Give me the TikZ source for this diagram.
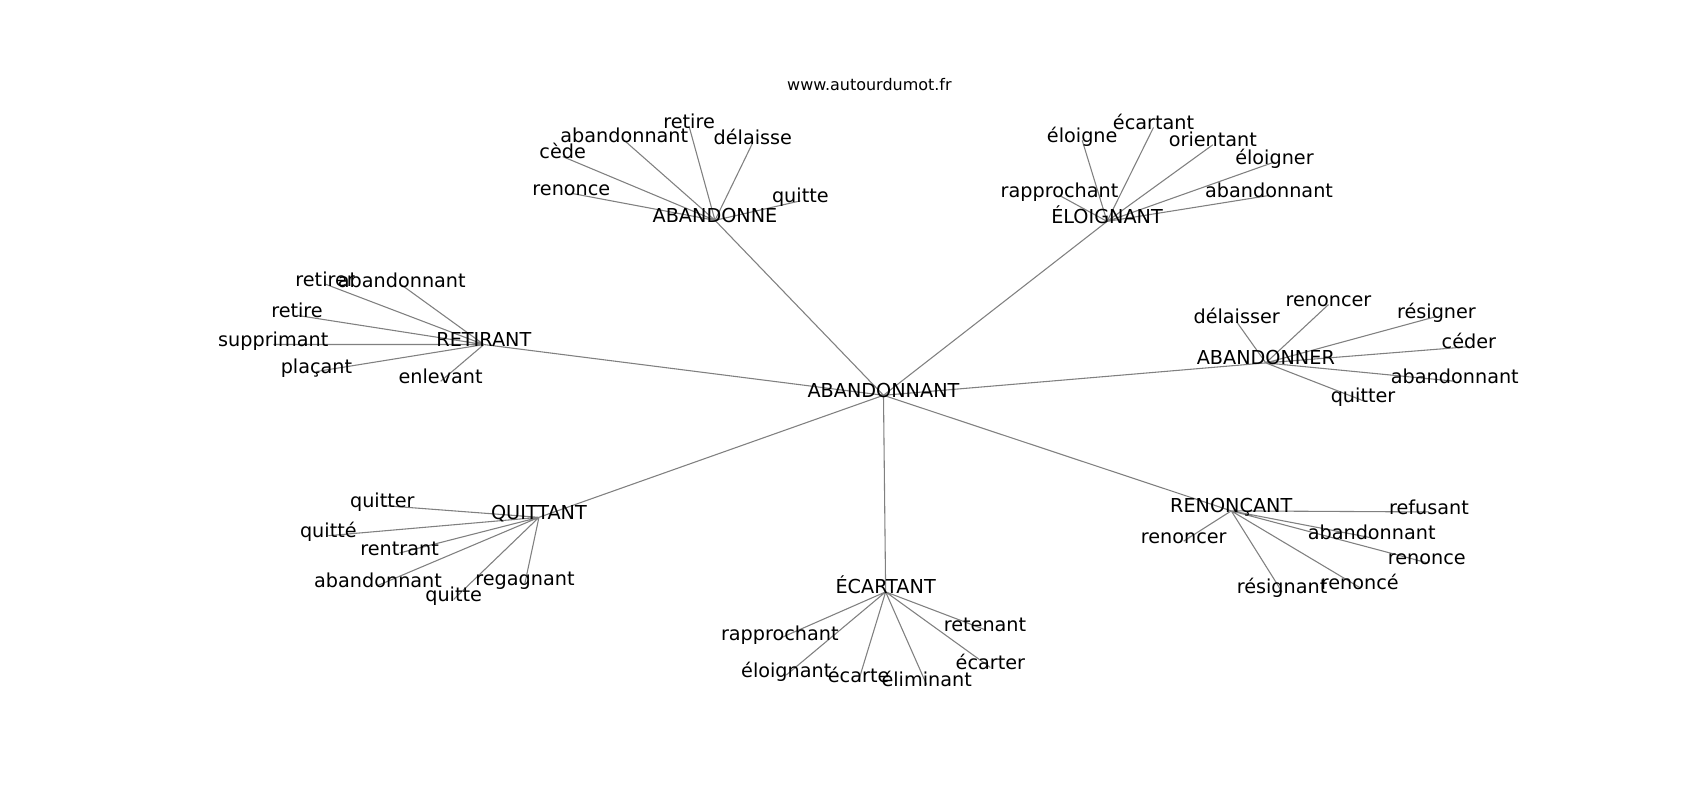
\documentclass[tikz,border=0pt]{standalone}
\usepackage{fontspec}
\setmainfont{DejaVu Sans}
\usetikzlibrary{backgrounds}

\tikzset{
  word/.style={inner sep=0pt, text height=0.76em, text depth=0.38em, font=\fontsize{17.8}{20}\selectfont},
  link/.style={draw=gray, line width=1pt},
}

\begin{document}
\begin{tikzpicture}[x=1pt, y=-1pt]
    \useasboundingbox (0,0) rectangle (1574,741);
    \node (site) [inner sep=0pt, font=\fontsize{14.8}{17}\selectfont] at (805,78) {www.autourdumot.fr};

    \node (abandonnant) [word] at (818,366) {ABANDONNANT};

    % ABANDONNE
    \node (abandonne) [word] at (662,204) {ABANDONNE};
    \node (abandonne-renonce) [word] at (529,179) {renonce};
    \node (abandonne-cede) [word] at (521,145) {cède};
    \node (abandonne-abandonnant) [word] at (578,130) {abandonnant};
    \node (abandonne-retire) [word] at (638,117) {retire};
    \node (abandonne-delaisse) [word] at (697,132) {délaisse};
    \node (abandonne-quitte) [word] at (741,186) {quitte};

    % ELOIGNANT
    \node (eloignant) [word] at (1025,205) {ÉLOIGNANT};
    \node (eloignant-rapprochant) [word] at (981,181) {rapprochant};
    \node (eloignant-eloigne) [word] at (1002,130) {éloigne};
    \node (eloignant-ecartant) [word] at (1068,118) {écartant};
    \node (eloignant-orientant) [word] at (1123,134) {orientant};
    \node (eloignant-eloigner) [word] at (1180,150) {éloigner};
    \node (eloignant-abandonnant) [word] at (1175,181) {abandonnant};

    % RETIRANT
    \node (retirant) [word] at (448,319) {RETIRANT};
    \node (retirant-retirer) [word] at (301,263) {retirer};
    \node (retirant-abandonnant) [word] at (372,264) {abandonnant};
    \node (retirant-retire) [word] at (275,292) {retire};
    \node (retirant-supprimant) [word] at (253,319) {supprimant};
    \node (retirant-placant) [word] at (293,344) {plaçant};
    \node (retirant-enlevant) [word] at (408,353) {enlevant};

    % ABANDONNER
    \node (abandonner) [word] at (1172,336) {ABANDONNER};
    \node (abandonner-delaisser) [word] at (1145,298) {délaisser};
    \node (abandonner-renoncer) [word] at (1230,282) {renoncer};
    \node (abandonner-resigner) [word] at (1330,293) {résigner};
    \node (abandonner-ceder) [word] at (1360,321) {céder};
    \node (abandonner-abandonnant) [word] at (1347,353) {abandonnant};
    \node (abandonner-quitter) [word] at (1262,371) {quitter};

    % QUITTANT
    \node (quittant) [word] at (499,479) {QUITTANT};
    \node (quittant-quitter) [word] at (354,468) {quitter};
    \node (quittant-quitte) [word] at (304,496) {quitté};
    \node (quittant-rentrant) [word] at (370,512) {rentrant};
    \node (quittant-abandonnant) [word] at (350,542) {abandonnant};
    \node (quittant-quitte2) [word] at (420,555) {quitte};
    \node (quittant-regagnant) [word] at (486,540) {regagnant};

    % RENONCANT
    \node (renoncant) [word] at (1140,473) {RENONÇANT};
    \node (renoncant-refusant) [word] at (1323,474) {refusant};
    \node (renoncant-renoncer) [word] at (1096,501) {renoncer};
    \node (renoncant-abandonnant) [word] at (1270,498) {abandonnant};
    \node (renoncant-renonce) [word] at (1321,521) {renonce};
    \node (renoncant-resignant) [word] at (1187,548) {résignant};
    \node (renoncant-renonce2) [word] at (1259,544) {renoncé};

    % ECARTANT
    \node (ecartant) [word] at (820,548) {ÉCARTANT};
    \node (ecartant-rapprochant) [word] at (722,591) {rapprochant};
    \node (ecartant-eloignant) [word] at (728,625) {éloignant};
    \node (ecartant-ecarte) [word] at (795,630) {écarte};
    \node (ecartant-eliminant) [word] at (858,634) {éliminant};
    \node (ecartant-retenant) [word] at (912,583) {retenant};
    \node (ecartant-ecarter) [word] at (917,618) {écarter};

    \begin{scope}[on background layer]
        \draw[link] (abandonnant.center) -- (abandonne.center)
                    (abandonnant.center) -- (eloignant.center)
                    (abandonnant.center) -- (retirant.center)
                    (abandonnant.center) -- (abandonner.center)
                    (abandonnant.center) -- (quittant.center)
                    (abandonnant.center) -- (renoncant.center)
                    (abandonnant.center) -- (ecartant.center);
        \draw[link] (abandonne.center) -- (abandonne-renonce.center)
                    (abandonne.center) -- (abandonne-cede.center)
                    (abandonne.center) -- (abandonne-abandonnant.center)
                    (abandonne.center) -- (abandonne-retire.center)
                    (abandonne.center) -- (abandonne-delaisse.center)
                    (abandonne.center) -- (abandonne-quitte.center);
        \draw[link] (eloignant.center) -- (eloignant-rapprochant.center)
                    (eloignant.center) -- (eloignant-eloigne.center)
                    (eloignant.center) -- (eloignant-ecartant.center)
                    (eloignant.center) -- (eloignant-orientant.center)
                    (eloignant.center) -- (eloignant-eloigner.center)
                    (eloignant.center) -- (eloignant-abandonnant.center);
        \draw[link] (retirant.center) -- (retirant-retirer.center)
                    (retirant.center) -- (retirant-abandonnant.center)
                    (retirant.center) -- (retirant-retire.center)
                    (retirant.center) -- (retirant-supprimant.center)
                    (retirant.center) -- (retirant-placant.center)
                    (retirant.center) -- (retirant-enlevant.center);
        \draw[link] (abandonner.center) -- (abandonner-delaisser.center)
                    (abandonner.center) -- (abandonner-renoncer.center)
                    (abandonner.center) -- (abandonner-resigner.center)
                    (abandonner.center) -- (abandonner-ceder.center)
                    (abandonner.center) -- (abandonner-abandonnant.center)
                    (abandonner.center) -- (abandonner-quitter.center);
        \draw[link] (quittant.center) -- (quittant-quitter.center)
                    (quittant.center) -- (quittant-quitte.center)
                    (quittant.center) -- (quittant-rentrant.center)
                    (quittant.center) -- (quittant-abandonnant.center)
                    (quittant.center) -- (quittant-quitte2.center)
                    (quittant.center) -- (quittant-regagnant.center);
        \draw[link] (renoncant.center) -- (renoncant-refusant.center)
                    (renoncant.center) -- (renoncant-renoncer.center)
                    (renoncant.center) -- (renoncant-abandonnant.center)
                    (renoncant.center) -- (renoncant-renonce.center)
                    (renoncant.center) -- (renoncant-resignant.center)
                    (renoncant.center) -- (renoncant-renonce2.center);
        \draw[link] (ecartant.center) -- (ecartant-rapprochant.center)
                    (ecartant.center) -- (ecartant-eloignant.center)
                    (ecartant.center) -- (ecartant-ecarte.center)
                    (ecartant.center) -- (ecartant-eliminant.center)
                    (ecartant.center) -- (ecartant-retenant.center)
                    (ecartant.center) -- (ecartant-ecarter.center);
    \end{scope}
\end{tikzpicture}
\end{document}
